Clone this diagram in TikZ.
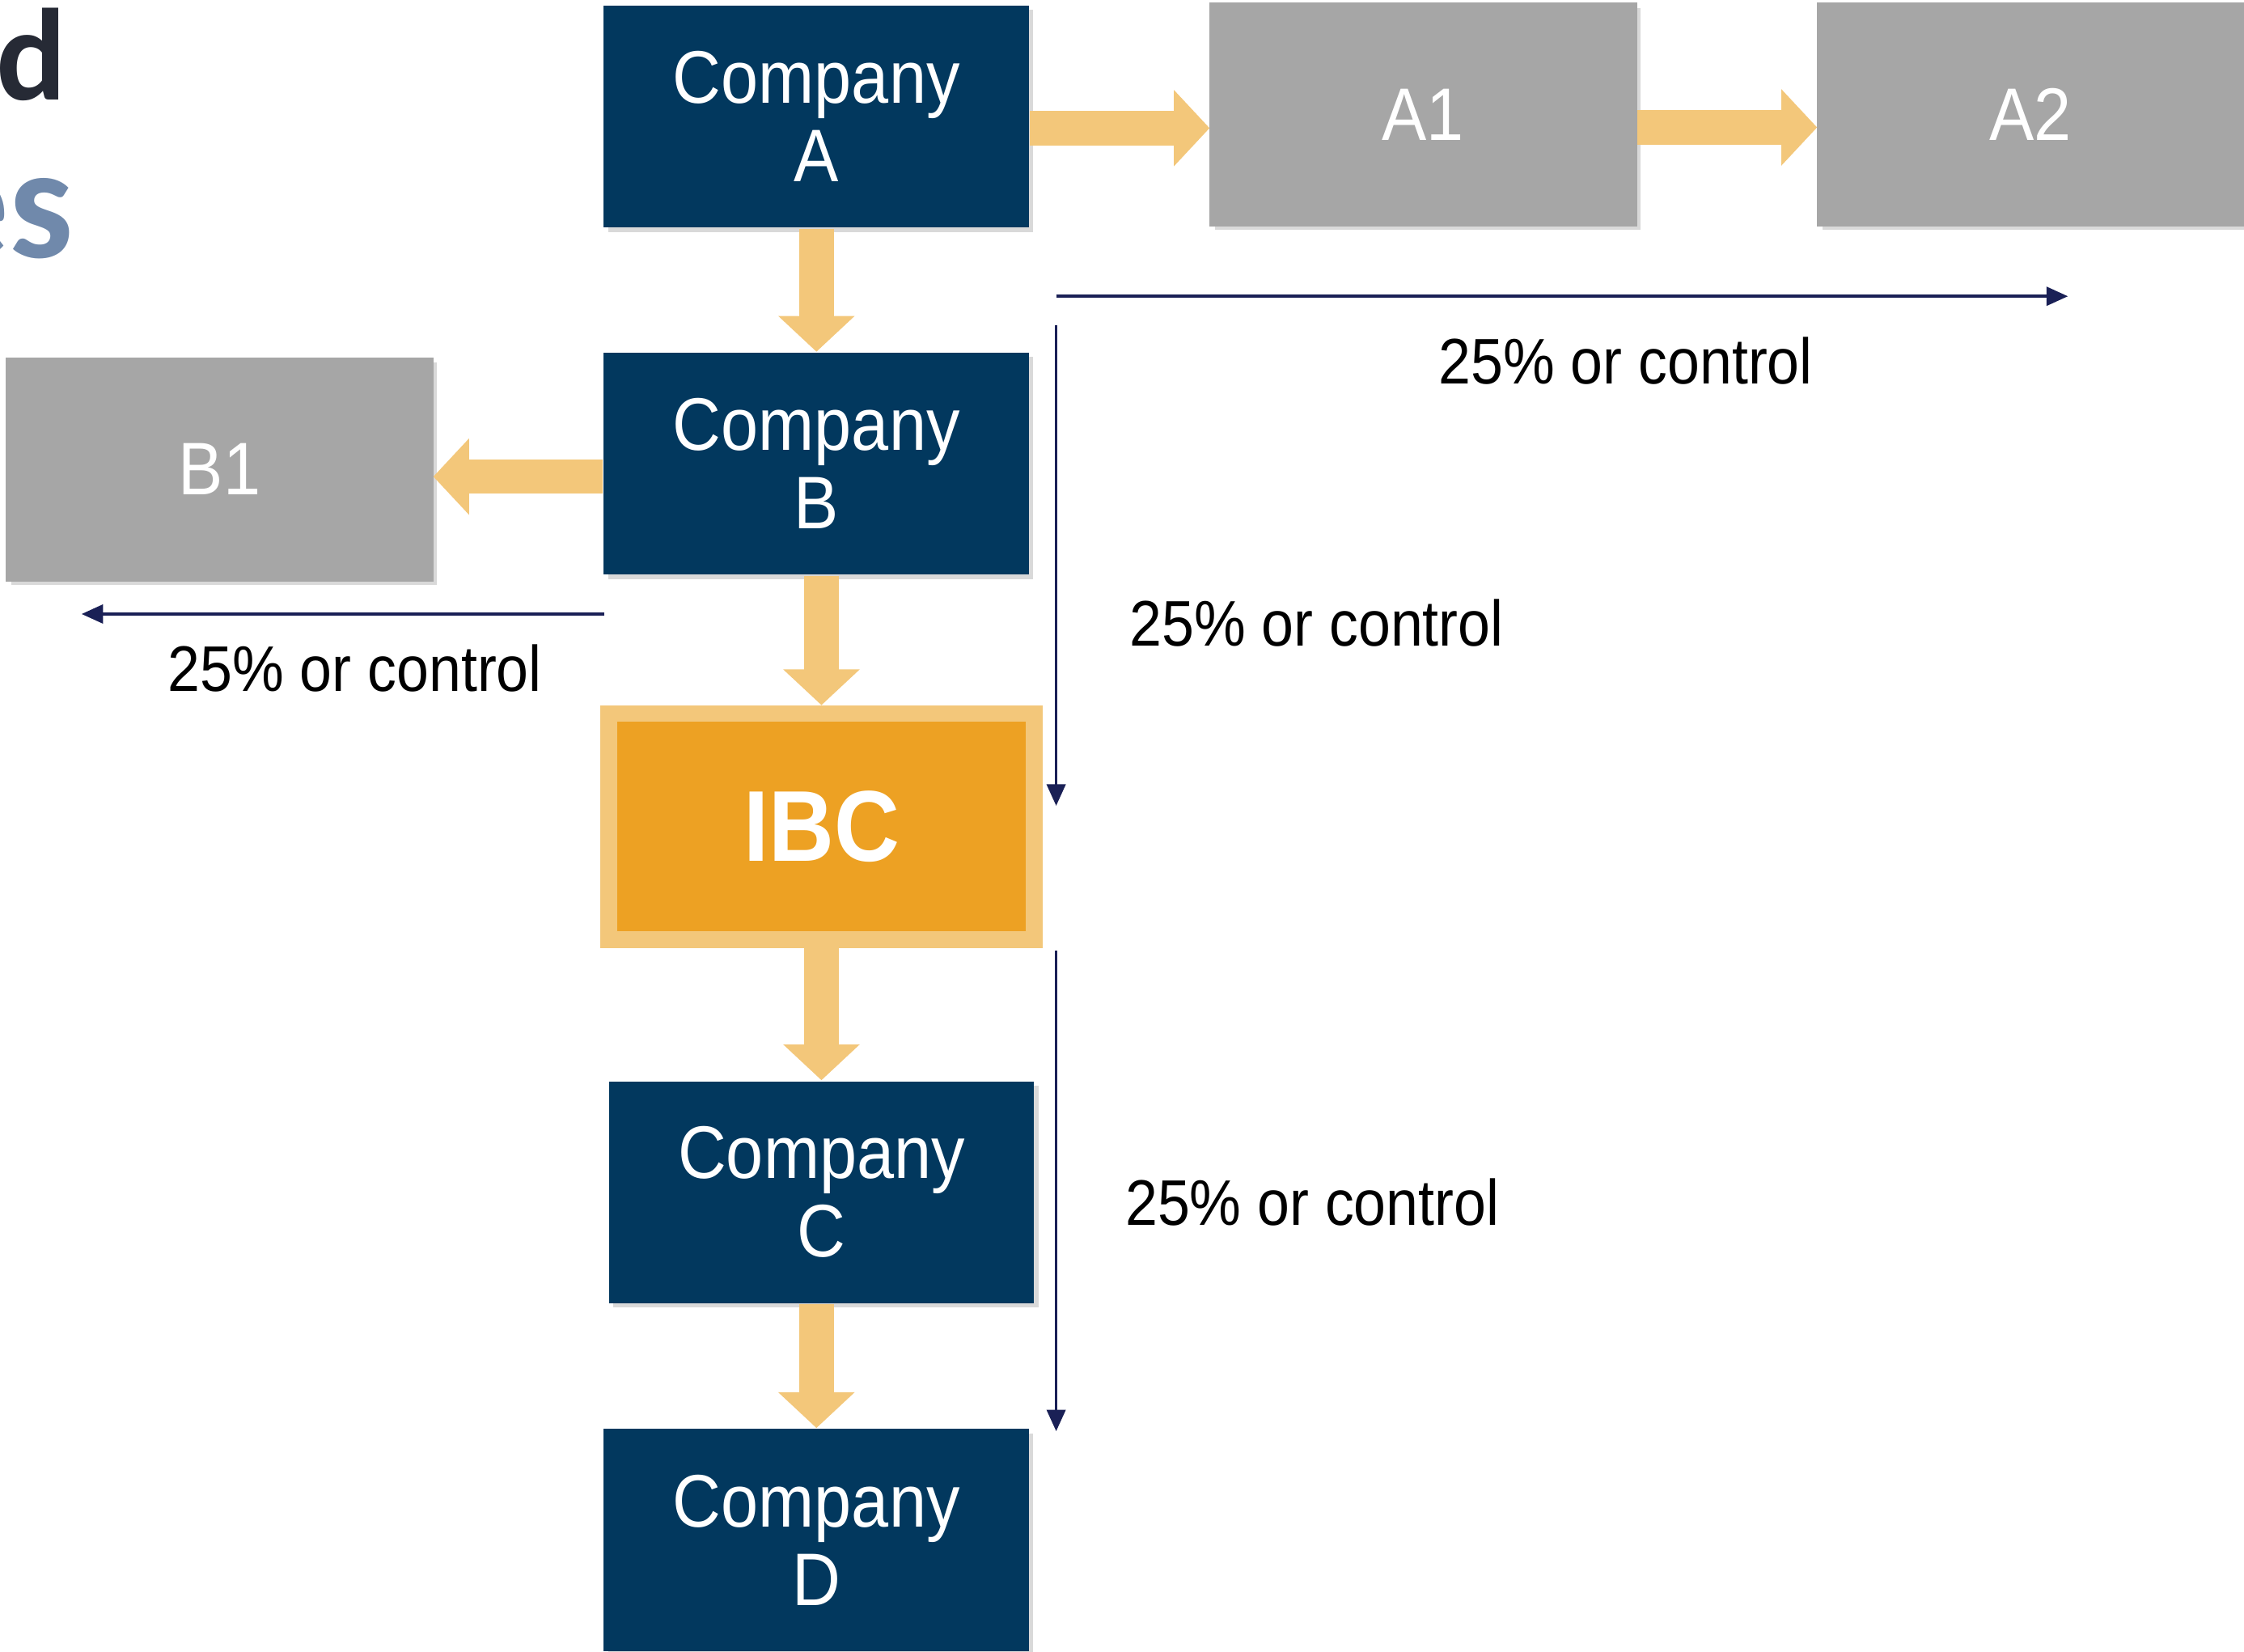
\documentclass[tikz,border=0pt]{standalone}
\usepackage{fontspec}
\setmainfont[FakeStretch=0.9]{Liberation Sans}
\newfontfamily\titlefont{Carlito}
\usetikzlibrary{arrows.meta,shadows}
\definecolor{navybox}{RGB}{2,56,94}
\definecolor{greybox}{RGB}{166,166,166}
\definecolor{flowyel}{RGB}{243,199,122}
\definecolor{ibcorange}{RGB}{237,161,35}
\definecolor{ctrlblue}{RGB}{26,32,86}
\definecolor{titledark}{RGB}{38,42,53}
\definecolor{titleblue}{RGB}{112,137,171}
\tikzset{
  company/.style={fill=navybox, text=white, minimum width=2.97cm, minimum height=1.55cm, align=center,
    font=\fontsize{14.8}{15.6}\selectfont, drop shadow={opacity=.25, fill=black!60, shadow xshift=.03cm, shadow yshift=-.03cm}},
  subsid/.style={company, fill=greybox, draw=black!35},
  ibcbox/.style={company, fill=ibcorange, draw=flowyel, line width=.115cm, minimum height=1.58cm,
    font=\bfseries\fontsize{20}{24}\selectfont},
  flow/.style={draw=flowyel, line width=.24cm, -{Triangle[width=.52cm,length=.25cm]}},
  ctrl/.style={draw=ctrlblue, line width=.6pt, -{Triangle[width=.13cm,length=.15cm]}},
  pct/.style={font=\fontsize{12.8}{14}\selectfont}
}
\begin{document}
\begin{tikzpicture}[x=0.01cm, y=-0.01cm]
\useasboundingbox (0,0) rectangle (1568,1154);
\node[anchor=base east, inner sep=0pt, text=titledark, font=\titlefont\bfseries\fontsize{26}{30}\selectfont] (t1) at (47,70) {d};
\node[anchor=base east, inner sep=0pt, text=titleblue, font=\titlefont\bfseries\fontsize{32}{36}\selectfont] (t2) at (52,180) {es};
% chain of companies
\node[company] (ca) at (570.5,81.5) {Company\\A};
\node[subsid] (a1) at (994.5,80) {A1};
\node[subsid] (a2) at (1419,80) {A2};
\node[company] (cb) at (570.5,324) {Company\\B};
\node[subsid] (b1) at (153.5,328) {B1};
\node[ibcbox] (ibc) at (574,577.5) {IBC};
\node[company] (cc) at (574,833) {Company\\C};
\node[company] (cd) at (570.5,1076) {Company\\D};
\coordinate (ax) at ([yshift=-.08cm]ca.east);
\coordinate (a1x) at ([yshift=-.09cm]a1.east);
\coordinate (bx) at ([yshift=-.09cm]cb.west);
\draw[flow] (ax) -- (ax -| a1.west);
\draw[flow] (a1x) -- (a1x -| a2.west);
\draw[flow] (bx) -- (bx -| b1.east);
\foreach \u/\v in {ca/cb,cb/ibc,ibc/cc,cc/cd}
  \draw[flow] (\v.north |- \u.south) -- (\v.north);
% 25% or control
\coordinate (h0) at (738,207); \coordinate (h1) at (1445,207);
\coordinate (l0) at (422,429); \coordinate (l1) at (57,429);
\coordinate (v0) at (738,227); \coordinate (v1) at (738,563);
\coordinate (w0) at (738,664); \coordinate (w1) at (738,1000);
\draw[ctrl] (h0) -- (h1);
\draw[ctrl] (l0) -- (l1);
\draw[ctrl] (v0) -- (v1);
\draw[ctrl] (w0) -- (w1);
\node[pct] (p1) at (1136,252) {25\% or control};
\node[pct] (p2) at (920,435) {25\% or control};
\node[pct] (p3) at (917,840) {25\% or control};
\node[pct] (p4) at (248,467) {25\% or control};
\end{tikzpicture}
\end{document}
